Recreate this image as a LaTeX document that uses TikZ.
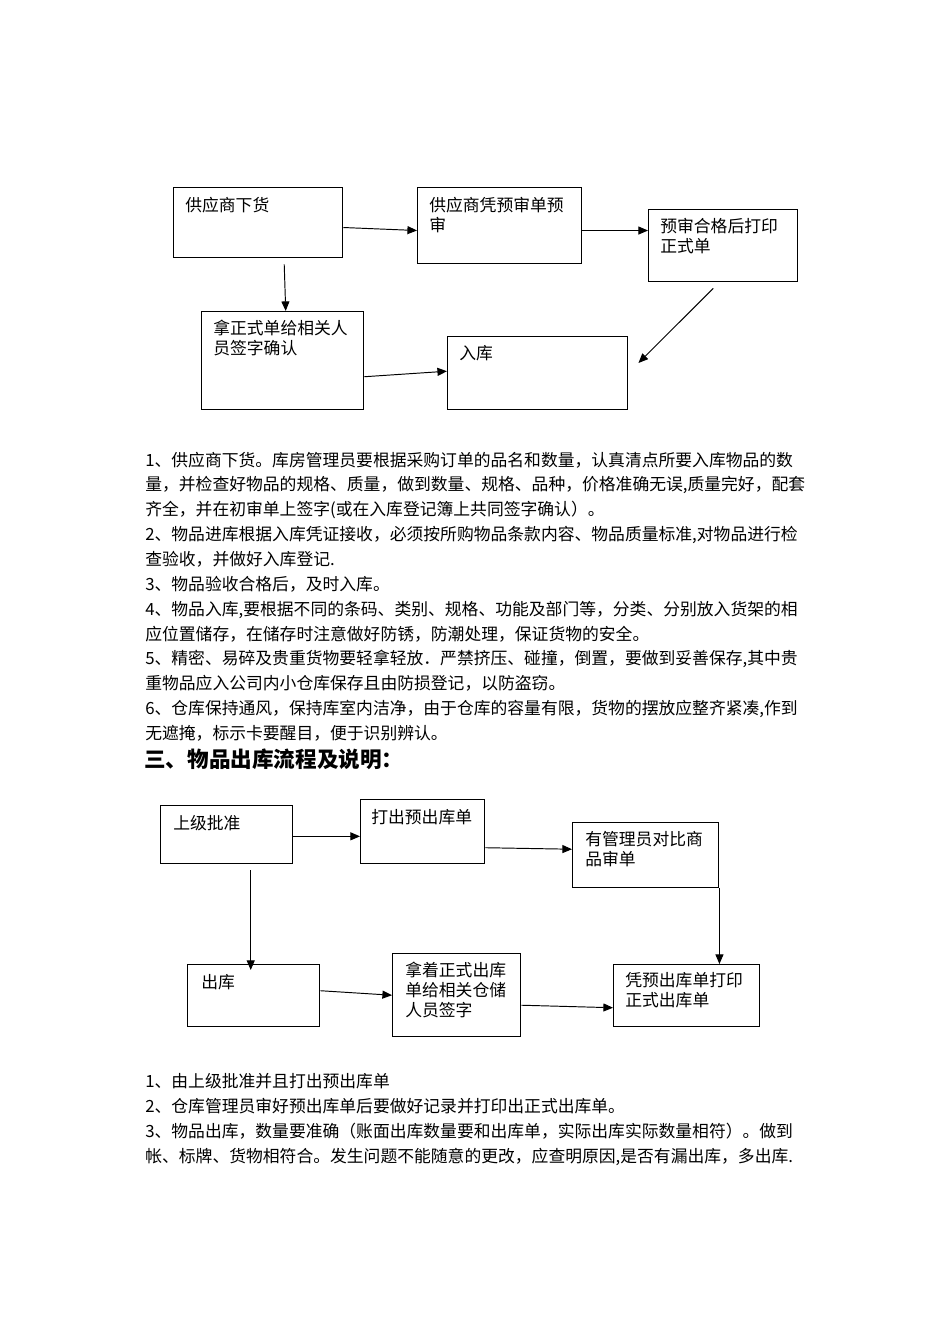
\documentclass[tikz,border=0pt]{standalone}
\usepackage{fontspec}
\setmainfont{Noto Sans CJK SC}
\usepackage{tikz}
\usetikzlibrary{arrows.meta, positioning}
\XeTeXlinebreaklocale "zh"
\XeTeXlinebreakskip = 0pt plus 1pt
\newcommand{\pxu}{0.625pt}
\newlength{\lw}\setlength{\lw}{407.5pt}
\newcommand{\jline}[1]{\makebox[\lw][s]{#1}}
\tikzstyle{flowbox} = [draw, line width=0.9pt, anchor=north west, inner sep=0pt]
\tikzstyle{boxtext} = [anchor=north west, inner sep=0pt, align=left, font=\fontsize{10.5}{12.5}\selectfont]
\tikzstyle{listtext} = [anchor=north west, inner sep=0pt, align=left, font=\fontsize{10.5}{15.53}\selectfont]
\tikzstyle{arrow} = [-{Triangle[length=6pt, width=5pt]}, line width=0.6pt]

\begin{document}
\begin{tikzpicture}[x=\pxu, y=-\pxu]
\fill[white] (0,0) rectangle (950,1344);
\useasboundingbox (0,0) rectangle (950,1344);

% Inbound flow: boxes
\node[flowbox, minimum width=169*\pxu, minimum height=70*\pxu] (sup) at (173,187) {};
\node[flowbox, minimum width=164*\pxu, minimum height=76*\pxu] (pre) at (417,187) {};
\node[flowbox, minimum width=149*\pxu, minimum height=72*\pxu] (prt) at (648,209) {};
\node[flowbox, minimum width=162*\pxu, minimum height=98*\pxu] (sig) at (201,311) {};
\node[flowbox, minimum width=180*\pxu, minimum height=73*\pxu] (inb) at (447,336) {};

% Inbound flow: texts
\node[boxtext] (sup-t) at ([shift={(12,10)}]sup.north west) {供应商下货};
\node[boxtext] (pre-t) at ([shift={(12,10)}]pre.north west) {供应商凭预审单预\\审};
\node[boxtext] (prt-t) at ([shift={(12,9)}]prt.north west) {预审合格后打印\\正式单};
\node[boxtext] (sig-t) at ([shift={(12,9)}]sig.north west) {拿正式单给相关人\\员签字确认};
\node[boxtext] (inb-t) at ([shift={(12,9)}]inb.north west) {入库};

% Inbound flow: arrows
\draw[arrow] ([yshift=-3pt]sup.east) -- ([yshift=-3pt]pre.west);
\draw[arrow] ([yshift=-3pt]pre.east) -- ([yshift=-3pt]pre.east -| prt.west);
\draw[arrow] ([shift={(26,6)}]sup.south) -- ([shift={(3,0)}]sig.north);
\draw[arrow] ([shift={(-10,6)}]prt.south) -- ([shift={(10,27)}]inb.north east);
\draw[arrow] ([shift={(0,16)}]sig.east) -- ([shift={(0,-2)}]inb.west);

% Inbound notes
\node[listtext] (list1) at (145,451.5) {%
\jline{1、供应商下货。库房管理员要根据采购订单的品名和数量，认真清点所要入库物品的数}\\
\jline{量，并检查好物品的规格、质量，做到数量、规格、品种，价格准确无误,质量完好，配套}\\
齐全，并在初审单上签字(或在入库登记簿上共同签字确认）。\\
\jline{2、物品进库根据入库凭证接收，必须按所购物品条款内容、物品质量标准,对物品进行检}\\
查验收，并做好入库登记.\\
3、物品验收合格后，及时入库。\\
\jline{4、物品入库,要根据不同的条码、类别、规格、功能及部门等，分类、分别放入货架的相}\\
应位置储存，在储存时注意做好防锈，防潮处理，保证货物的安全。\\
\jline{5、精密、易碎及贵重货物要轻拿轻放．严禁挤压、碰撞，倒置，要做到妥善保存,其中贵}\\
重物品应入公司内小仓库保存且由防损登记，以防盗窃。\\
\jline{6、仓库保持通风，保持库室内洁净，由于仓库的容量有限，货物的摆放应整齐紧凑,作到}\\
无遮掩，标示卡要醒目，便于识别辨认。};

% Section heading
\node[anchor=north west, inner sep=0pt, font=\bfseries\fontsize{13.5}{16}\selectfont] (sec3) at (144,749) {三、物品出库流程及说明：};

% Outbound flow: boxes
\node[flowbox, minimum width=132*\pxu, minimum height=58*\pxu] (apr) at (160,805) {};
\node[flowbox, minimum width=124*\pxu, minimum height=64*\pxu] (pro) at (360,799) {};
\node[flowbox, minimum width=146*\pxu, minimum height=65*\pxu] (chk) at (572,822) {};
\node[flowbox, minimum width=132*\pxu, minimum height=62*\pxu] (out) at (187,964) {};
\node[flowbox, minimum width=128*\pxu, minimum height=83*\pxu] (sgn) at (392,953) {};
\node[flowbox, minimum width=146*\pxu, minimum height=62*\pxu] (fml) at (613,964) {};

% Outbound flow: texts
\node[boxtext] (apr-t) at ([shift={(13,10)}]apr.north west) {上级批准};
\node[boxtext] (pro-t) at ([shift={(11,10)}]pro.north west) {打出预出库单};
\node[boxtext] (chk-t) at ([shift={(13,9)}]chk.north west) {有管理员对比商\\品审单};
\node[boxtext] (out-t) at ([shift={(14,10)}]out.north west) {出库};
\node[boxtext] (sgn-t) at ([shift={(13,9)}]sgn.north west) {拿着正式出库\\单给相关仓储\\人员签字};
\node[boxtext] (fml-t) at ([shift={(12,8)}]fml.north west) {凭预出库单打印\\正式出库单};

% Outbound flow: arrows
\draw[arrow] ([yshift=-1pt]apr.east) -- ([yshift=-1pt]apr.east -| pro.west);
\draw[arrow] ([shift={(0,16)}]pro.east) -- ([shift={(0,-6)}]chk.west);
\draw[arrow] ([shift={(24,6)}]apr.south) -- ([shift={(24,6)}]apr.south |- out.north);
\draw[arrow] (chk.south east) -- (chk.south east |- fml.north);
\draw[arrow] ([shift={(0,-5)}]out.east) -- (sgn.west);
\draw[arrow] ([shift={(0,10)}]sgn.east) -- ([shift={(0,12)}]fml.west);

% Outbound notes
\node[listtext] (list2) at (145,1073.5) {%
1、由上级批准并且打出预出库单\\
2、仓库管理员审好预出库单后要做好记录并打印出正式出库单。\\
\jline{3、物品出库，数量要准确（账面出库数量要和出库单，实际出库实际数量相符）。做到}\\
帐、标牌、货物相符合。发生问题不能随意的更改，应查明原因,是否有漏出库，多出库.};

\end{tikzpicture}
\end{document}
